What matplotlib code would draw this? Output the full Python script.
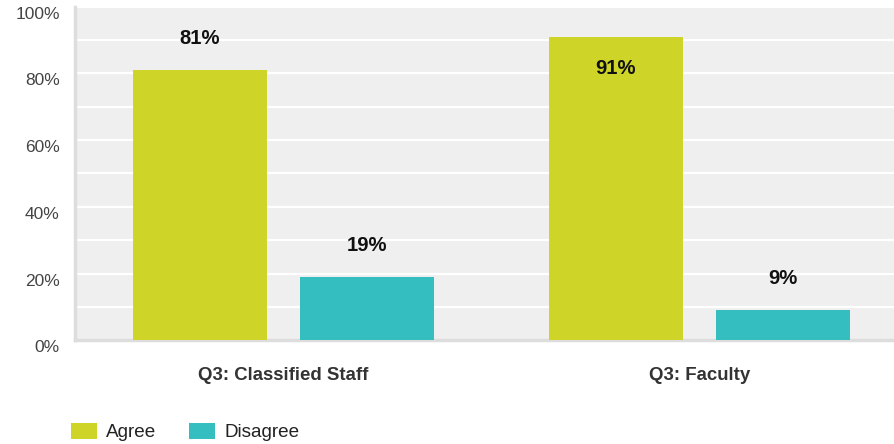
import matplotlib
matplotlib.use("Agg")
import matplotlib.pyplot as plt
import numpy as np

plt.rcParams['font.family'] = ['Liberation Sans', 'DejaVu Sans']

categories = ["Q3: Classified Staff", "Q3: Faculty"]
series_names = ["Agree", "Disagree"]
agree = [81, 91]
disagree = [19, 9]
colors = ["#CFD428", "#34BEC0"]
yticks = [0, 20, 40, 60, 80, 100]
ytick_labels = ["0%", "20%", "40%", "60%", "80%", "100%"]

fig = plt.figure(figsize=(8.95, 4.44), dpi=100)
ax = fig.add_axes([75/895, 103.6/444, 1 - 75/895, (340.4-6.5)/444])
ax.set_facecolor("#EFEFEF")

x = np.arange(len(categories))
w = 0.322
off = 0.2007
values = [agree, disagree]
offsets = [-off, off]
for vals, o, c, name in zip(values, offsets, colors, series_names):
    ax.bar(x + o, vals, width=w, color=c, label=name, zorder=3)
    for xi, v in zip(x + o, vals):
        ypos = v - 9.5 if v + 14 > 100 else v + 9.5
        ax.text(xi, ypos, f"{v}%", ha="center", va="center",
                fontsize=14.6, fontweight="bold", color="#111111", zorder=4)

ax.set_xlim(-0.5, (895 - 283.5) / 416)
ax.set_ylim(0, 100)
ax.set_yticks(yticks)
ax.set_yticks(np.arange(10, 100, 20), minor=True)
ax.yaxis.grid(True, which="both", color="white", linewidth=1.6, zorder=0)
ax.set_yticklabels(ytick_labels)
ax.tick_params(axis="y", which="both", length=0, labelsize=12.5, labelcolor="#444444", pad=11)
for lbl in ax.get_yticklabels():
    lbl.set_va("top")
ax.set_xticks(x)
ax.set_xticklabels(categories, fontweight="bold", fontsize=13.4, color="#333333")
ax.tick_params(axis="x", length=0, pad=19)

for s in ["top", "right"]:
    ax.spines[s].set_visible(False)
ax.spines["left"].set_color("#DDDDDD")
ax.spines["left"].set_linewidth(2.5)
ax.spines["bottom"].set_color("#DDDDDD")
ax.spines["bottom"].set_linewidth(2.5)

leg = fig.legend(loc="center left", bbox_to_anchor=(71/895, (444-432)/444), ncol=2, frameon=False,
                 fontsize=13.6, handlelength=1.37, handleheight=1.0, columnspacing=1.75,
                 handletextpad=0.48, borderpad=0, borderaxespad=0)
for t in leg.get_texts():
    t.set_color("#222222")

fig.savefig("out.png", dpi=100)
